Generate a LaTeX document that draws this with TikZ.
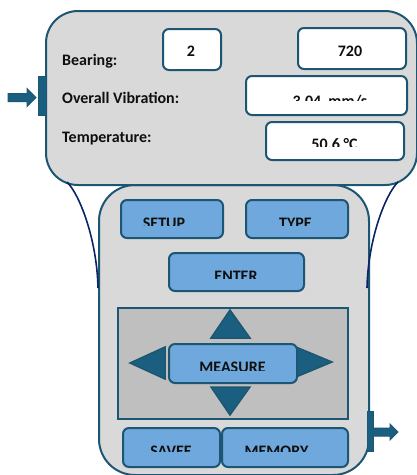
\documentclass[tikz,border=0pt]{standalone}
\usepackage{fontspec}
\setmainfont{Carlito}
\definecolor{rim}{HTML}{1D5672}
\definecolor{panelgray}{HTML}{D9D9D9}
\definecolor{padgray}{HTML}{BFBFBF}
\definecolor{keyblue}{HTML}{6FA8DC}
\definecolor{tealfill}{HTML}{1A5F80}
\definecolor{navyline}{HTML}{0B2467}
\definecolor{inkdark}{HTML}{0F0F0F}
\begin{document}
\begin{tikzpicture}[x=1pt,y=-1pt,
  panel/.style={draw=rim, fill=panelgray, line width=2pt, rounded corners=32pt, anchor=north west, inner sep=0pt},
  valbox/.style={draw=rim, fill=white, line width=2pt, rounded corners=6pt, anchor=north west, inner sep=0pt},
  keybox/.style={draw=rim, fill=keyblue, line width=2pt, rounded corners=6pt, anchor=north west, inner sep=0pt},
  padbox/.style={draw=rim, fill=padgray, line width=2pt, anchor=north west, inner sep=0pt},
  tri/.style={draw=rim, fill=tealfill, line width=1.5pt, line join=miter},
  label/.style={font=\fontsize{16}{18}\selectfont\bfseries, text=inkdark, anchor=base west, inner sep=0pt},
  keytext/.style={font=\fontsize{16}{18}\selectfont\bfseries, text=inkdark, anchor=base, inner sep=0pt},
  link/.style={draw=navyline, line width=1.6pt}]
\useasboundingbox (0,0) rectangle (417,475);

% keypad body and display body
\node[panel, minimum width=270pt, minimum height=290pt, rounded corners=36pt] (keypad) at (98,184) {};
\node[panel, minimum width=371pt, minimum height=174pt] (display) at (45,10) {};

% flexible joints between display and keypad
\coordinate (jl0) at (67,182);
\coordinate (jl1) at (98,288);
\coordinate (jr0) at (398,182);
\coordinate (jr1) at (367,288);
\draw[link] (jl0) .. controls (80,195) and (97,240) .. (jl1);
\draw[link] (jr0) .. controls (385,195) and (368,240) .. (jr1);

% input marker (left)
\node[draw=rim, fill=tealfill, line width=1pt, minimum width=8pt, minimum height=39pt, anchor=north west, inner sep=0pt] (inbar) at (38,76) {};
\draw[tri, line width=1pt] (8,93.5) -- (27,93.5) -- (27,88.5) -- (36,97.5) -- (27,106.5) -- (27,101.5) -- (8,101.5) -- cycle;

% output marker (right)
\node[draw=rim, fill=tealfill, line width=1pt, minimum width=6pt, minimum height=40pt, anchor=north west, inner sep=0pt] (outbar) at (367,411) {};
\draw[tri, line width=1pt] (373,428) -- (390,428) -- (390,424) -- (398,432) -- (390,440) -- (390,436) -- (373,436) -- cycle;

% display labels
\node[label] (lbear) at (62,65) {Bearing:};
\node[label] (lvib) at (62,103.5) {Overall Vibration:};
\node[label] (ltemp) at (62,142.3) {Temperature:};

% value fields
\node[valbox, minimum width=58pt, minimum height=41pt] (bear) at (162,28) {};
\node[valbox, minimum width=108pt, minimum height=41pt] (rpm) at (297,27) {};
\node[valbox, minimum width=161pt, minimum height=39pt] (vib) at (245,75) {};
\node[valbox, minimum width=138pt, minimum height=38pt] (temp) at (265,121) {};

\node[keytext] (tbear) at (191,56.3) {2};
\node[keytext] (trpm) at (350,56.3) {720};
\begin{scope}
  \clip (250,80) rectangle (400,100.7);
  \node[keytext] (tvib) at (330,106.3) {3.04\ \ mm/s};
\end{scope}
\begin{scope}
  \clip (270,125) rectangle (398,146);
  \node[keytext] (ttemp) at (334.5,149.6) {50.6 °C};
\end{scope}

% keys
\node[keybox, minimum width=102pt, minimum height=38pt] (setup) at (120,199) {};
\node[keybox, minimum width=102pt, minimum height=38pt] (type) at (245,199) {};
\node[keybox, minimum width=135pt, minimum height=38pt] (enter) at (168,252) {};

% navigation pad
\node[padbox, minimum width=230pt, minimum height=111pt] (pad) at (117,307) {};
\draw[tri] (230,310) -- (250,338) -- (211,338) -- cycle;
\draw[tri] (230,415) -- (250,387) -- (211,387) -- cycle;
\draw[tri] (130,363) -- (165,347) -- (165,379) -- cycle;
\draw[tri] (332,362) -- (296,347) -- (296,377) -- cycle;
\node[keybox, minimum width=128pt, minimum height=39pt] (measure) at (168,343) {};

\node[keybox, minimum width=97pt, minimum height=39pt] (savee) at (122,427) {};
\node[keybox, minimum width=126pt, minimum height=39pt] (memory) at (221,427) {};

% key captions
\begin{scope}
  \clip (125,205) rectangle (342,225);
  \node[keytext] (tsetup) at (164,228) {SETUP};
  \node[keytext] (ttype) at (295.5,228) {TYPE};
\end{scope}
\begin{scope}
  \clip (172,258) rectangle (300,278);
  \node[keytext] (tenter) at (236,281.3) {ENTER};
\end{scope}
\begin{scope}
  \clip (172,348) rectangle (292,370);
  \node[keytext] (tmeasure) at (232.5,372.6) {MEASURE};
\end{scope}
\begin{scope}
  \clip (125,432) rectangle (344,451.7);
  \node[keytext] (tsavee) at (171,456) {SAVEE};
  \node[keytext] (tmemory) at (276.5,456) {MEMORY};
\end{scope}
\end{tikzpicture}
\end{document}
